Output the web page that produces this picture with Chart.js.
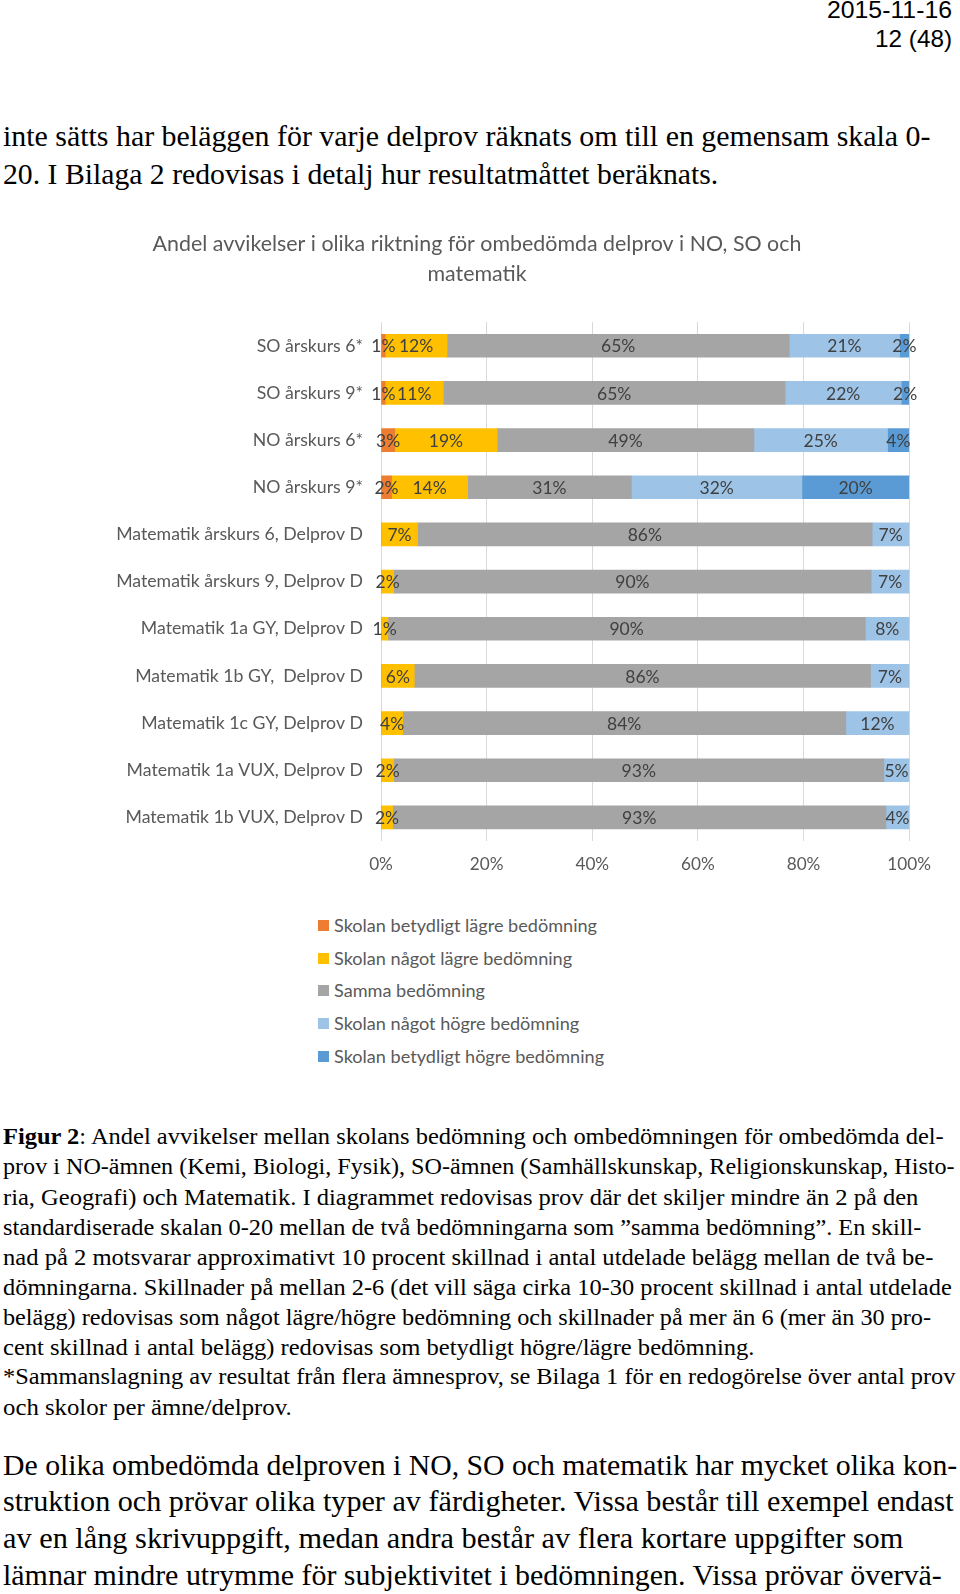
<!DOCTYPE html>
<html><head><meta charset="utf-8">
<script src="https://cdn.jsdelivr.net/npm/chart.js@4.4.0/dist/chart.umd.min.js"></script>
<style>
html,body{margin:0;padding:0;background:#fff;}
body{width:960px;height:1594px;position:relative;overflow:hidden;}
.l{position:absolute;white-space:pre;transform-origin:0 0;line-height:1;}
.serif{font-family:"Liberation Serif",serif;color:#000;}
.hdr{font-family:"Liberation Sans",Arial,sans-serif;color:#000;}
#chartBox{position:absolute;left:5px;top:225px;width:939px;height:666px;}
.leg{position:absolute;font-family:Lato,sans-serif;font-size:18.1px;color:#595959;white-space:nowrap;line-height:1;}
.leg i{position:absolute;left:-16px;top:4px;width:11px;height:11px;}
</style></head><body>
<div id="chartBox"><canvas id="c" width="939" height="666"></canvas></div>
<div id="legend"></div>
<script>
// ---- chart data ----
const categories = ['SO årskurs 6*','SO årskurs 9*','NO årskurs 6*','NO årskurs 9*',
  'Matematik årskurs 6, Delprov D','Matematik årskurs 9, Delprov D','Matematik 1a GY, Delprov D',
  'Matematik 1b GY,  Delprov D','Matematik 1c GY, Delprov D','Matematik 1a VUX, Delprov D','Matematik 1b VUX, Delprov D'];
const seriesNames = ['Skolan betydligt lägre bedömning','Skolan något lägre bedömning','Samma bedömning',
  'Skolan något högre bedömning','Skolan betydligt högre bedömning'];
const betydligtLagre = [0.8, 0.8, 2.6, 2.0, 0, 0, 0, 0, 0, 0, 0];
const nagotLagre     = [11.7, 11.0, 19.4, 14.4, 6.9, 2.4, 1.3, 6.3, 4.1, 2.4, 2.2];
const samma          = [64.8, 64.7, 48.6, 31.0, 86.1, 90.4, 90.4, 86.4, 83.9, 92.8, 93.4];
const nagotHogre     = [20.9, 22.0, 25.3, 32.3, 7.0, 7.2, 8.3, 7.3, 12.0, 4.8, 4.4];
const betydligtHogre = [1.8, 1.5, 4.1, 20.3, 0, 0, 0, 0, 0, 0, 0];
const xTicks = [0, 20, 40, 60, 80, 100];
const titleLines = ['Andel avvikelser i olika riktning för ombedömda delprov i NO, SO och', 'matematik'];
const colors = ['#ED7D31','#FFC000','#A5A5A5','#9DC3E6','#5B9BD5'];
const seriesData = [betydligtLagre, nagotLagre, samma, nagotHogre, betydligtHogre];

const FONT = 'Lato, "Open Sans", sans-serif';

const segLabels = {
  id:'segLabels',
  afterDatasetsDraw(chart){
    const ctx = chart.ctx;
    ctx.save();
    ctx.font = '17.5px ' + FONT;
    ctx.fillStyle = '#404040';
    ctx.textAlign = 'center';
    ctx.textBaseline = 'middle';
    chart.data.datasets.forEach((ds, di) => {
      const meta = chart.getDatasetMeta(di);
      meta.data.forEach((bar, i) => {
        const v = ds.data[i];
        if (!v) return;
        const p = bar.getProps(['x','base','y'], true);
        ctx.fillText(Math.round(v) + '%', (p.x + p.base) / 2, p.y + 1);
      });
    });
    ctx.restore();
  }
};

new Chart(document.getElementById('c'), {
  type:'bar',
  data:{
    labels: categories,
    datasets: seriesNames.map((n, i) => ({
      label:n, data:seriesData[i], backgroundColor:colors[i], borderWidth:0, barThickness:23
    }))
  },
  options:{
    indexAxis:'y', responsive:false, animation:false,
    layout:{padding:{left:30, right:25, top:0, bottom:0}},
    plugins:{
      legend:{display:false}, tooltip:{enabled:false},
      title:{display:true, text:titleLines, color:'#595959',
        font:{family:FONT, size:21.4, weight:'normal', lineHeight:1.36},
        padding:{top:5, bottom:34}}
    },
    scales:{
      x:{stacked:true, min:0, max:100,
        afterBuildTicks:s => { s.ticks = xTicks.map(v => ({value:v})); },
        ticks:{callback:v => v + '%', color:'#595959', font:{family:FONT, size:17.2}, padding:13, maxRotation:0},
        grid:{color:'#d9d9d9', drawTicks:false}, border:{display:false},
        afterFit:s => { s.height = 50; }},
      y:{stacked:true,
        ticks:{color:'#595959', font:{family:FONT, size:17.7}, padding:18},
        grid:{display:false, drawTicks:false}, border:{display:false},
        afterFit:s => { s.width = 346; }}
    }
  },
  plugins:[segLabels]
});

// legend (HTML, from the series arrays)
const legY = [925, 958, 990.5, 1023, 1056];
const legBox = document.getElementById('legend');
seriesNames.forEach((n, i) => {
  const d = document.createElement('div');
  d.className = 'leg';
  d.style.left = '334px';
  d.style.top = (legY[i] - 9.5) + 'px';
  d.innerHTML = '<i style="background:' + colors[i] + '"></i>' + n;
  legBox.appendChild(d);
});

// ---- page text ----
function addLine(html, cls, left, yc, size, w, right){
  const d = document.createElement('div');
  d.className = 'l ' + cls;
  d.style.fontSize = size + 'px';
  d.style.top = (yc - 0.55 * size) + 'px';
  d.innerHTML = html;
  document.body.appendChild(d);
  const nat = d.offsetWidth;
  const sx = w / nat;
  if (right !== undefined) {
    d.style.left = (right - w) + 'px';
  } else {
    d.style.left = left + 'px';
  }
  d.style.transform = 'scaleX(' + sx + ')';
}

addLine('2015-11-16', 'hdr', 0, 11, 24, 125, 952);
addLine('12 (48)', 'hdr', 0, 40, 24, 77, 952);

const p1 = [
  ['inte sätts har beläggen för varje delprov räknats om till en gemensam skala 0-', 137.8, 928],
  ['20. I Bilaga 2 redovisas i detalj hur resultatmåttet beräknats.', 175.6, 715]
];
p1.forEach(r => addLine(r[0], 'serif', 3, r[1], 30, r[2]));

const cap = [
  ['<b>Figur 2</b>: Andel avvikelser mellan skolans bedömning och ombedömningen för ombedömda del-', 1137, 941],
  ['prov i NO-ämnen (Kemi, Biologi, Fysik), SO-ämnen (Samhällskunskap, Religionskunskap, Histo-', 1167.6, 952],
  ['ria, Geografi) och Matematik. I diagrammet redovisas prov där det skiljer mindre än 2 på den', 1198, 915],
  ['standardiserade skalan 0-20 mellan de två bedömningarna som ”samma bedömning”. En skill-', 1228, 918],
  ['nad på 2 motsvarar approximativt 10 procent skillnad i antal utdelade belägg mellan de två be-', 1258, 930],
  ['dömningarna. Skillnader på mellan 2-6 (det vill säga cirka 10-30 procent skillnad i antal utdelade', 1288, 949],
  ['belägg) redovisas som något lägre/högre bedömning och skillnader på mer än 6 (mer än 30 pro-', 1318, 928],
  ['cent skillnad i antal belägg) redovisas som betydligt högre/lägre bedömning.', 1348, 751],
  ['*Sammanslagning av resultat från flera ämnesprov, se Bilaga 1 för en redogörelse över antal prov', 1377, 952],
  ['och skolor per ämne/delprov.', 1408, 289]
];
cap.forEach(r => addLine(r[0], 'serif', 3, r[1], 24, r[2]));

const body2 = [
  ['De olika ombedömda delproven i NO, SO och matematik har mycket olika kon-', 1466, 954],
  ['struktion och prövar olika typer av färdigheter. Vissa består till exempel endast', 1502.6, 951],
  ['av en lång skrivuppgift, medan andra består av flera kortare uppgifter som', 1539, 900],
  ['lämnar mindre utrymme för subjektivitet i bedömningen. Vissa prövar övervä-', 1576, 939]
];
body2.forEach(r => addLine(r[0], 'serif', 3, r[1], 30, r[2]));
</script>
</body></html>
